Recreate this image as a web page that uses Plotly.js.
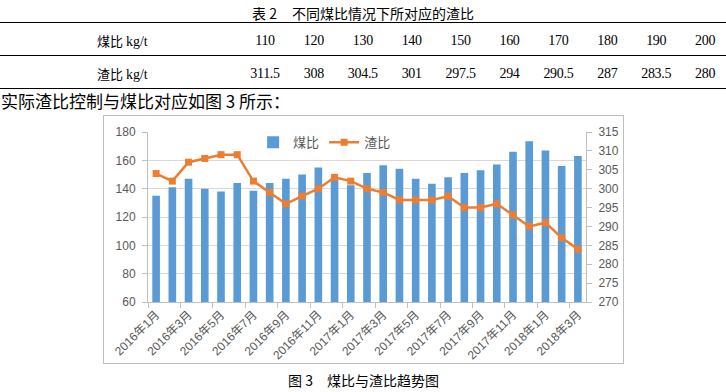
<!DOCTYPE html>
<html>
<head>
<meta charset="utf-8">
<script src="https://cdn.plot.ly/plotly-3.0.1.min.js"></script>
<style>
  html, body { margin: 0; padding: 0; background: #fff; }
  body { width: 726px; height: 392px; position: relative; overflow: hidden; font-family: "Noto Sans CJK SC", sans-serif; color: #000; }
  .abs { position: absolute; white-space: nowrap; }
  .rule { position: absolute; left: 0; width: 726px; height: 1.6px; background: #000; }
  .hei { font-family: "Noto Sans CJK SC", sans-serif; }
  .serif { font-family: "Liberation Serif", "Times New Roman", serif; }
  .cell { position: absolute; transform: translate(-50%, -50%); font-family: "Liberation Serif", serif; font-size: 14px; letter-spacing: -0.3px; }
  #frame { position: absolute; left: 103px; top: 115px; width: 519px; height: 247px; border: 1px solid #bfbfbf; }
  #chart { width: 519px; height: 247px; }
</style>
</head>
<body>
<div class="abs hei" style="left:252px; top:3px; font-size:14px; line-height:20px;">表 2</div>
<div class="abs hei" style="left:292px; top:3px; font-size:14px; line-height:20px;">不同煤比情况下所对应的渣比</div>
<div class="rule" style="top:21.5px;"></div>
<div class="rule" style="top:54.5px;"></div>
<div class="rule" style="top:87.5px;"></div>
<div class="abs" style="left:97px; top:31px; font-size:13px; line-height:20px;"><span class="hei">煤比</span> <span class="serif" style="font-size:14px;">kg/t</span></div>
<div class="abs" style="left:97px; top:64px; font-size:13px; line-height:20px;"><span class="hei">渣比</span> <span class="serif" style="font-size:14px;">kg/t</span></div>
<div id="table"></div>
<div class="abs hei" style="left:1px; top:89px; font-size:17px; line-height:24px;">实际渣比控制与煤比对应如图 3 所示：</div>
<div id="frame"><div id="chart"></div></div>
<div class="abs hei" style="left:288px; top:370px; font-size:14px; line-height:20px;">图 3</div>
<div class="abs hei" style="left:327px; top:370px; font-size:14px; line-height:20px;">煤比与渣比趋势图</div>
<script>
// ---- Table 2 data ----
const tableCoalRatio = [110, 120, 130, 140, 150, 160, 170, 180, 190, 200];
const tableSlagRatio = ["311.5", "308", "304.5", "301", "297.5", "294", "290.5", "287", "283.5", "280"];

// ---- Figure 3 data ----
const months = [
  "2016年1月", "2016年2月", "2016年3月", "2016年4月", "2016年5月", "2016年6月",
  "2016年7月", "2016年8月", "2016年9月", "2016年10月", "2016年11月", "2016年12月",
  "2017年1月", "2017年2月", "2017年3月", "2017年4月", "2017年5月", "2017年6月",
  "2017年7月", "2017年8月", "2017年9月", "2017年10月", "2017年11月", "2017年12月",
  "2018年1月", "2018年2月", "2018年3月"
];
const coalRatio = [135, 141, 147, 140, 138, 144, 138.5, 144, 147, 150, 155, 147,
                   142.5, 151, 156.5, 154, 147, 143.5, 148, 151, 153, 157, 166, 173.5,
                   167, 156, 163];
const slagRatio = [304, 302, 307, 308, 309, 309, 302, 299, 296, 298, 300, 303,
                   302, 300, 299, 297, 297, 297, 298, 295, 295, 296, 293, 290,
                   291, 287, 284];
const coalName = "煤比";
const slagName = "渣比";

// build table cells
const tbl = document.getElementById("table");
tableCoalRatio.forEach((v, i) => {
  const cx = 265 + 48.9 * i;
  const a = document.createElement("div");
  a.className = "cell"; a.style.left = cx + "px"; a.style.top = "41px"; a.textContent = String(v);
  tbl.appendChild(a);
  const b = document.createElement("div");
  b.className = "cell"; b.style.left = cx + "px"; b.style.top = "74px"; b.textContent = tableSlagRatio[i];
  tbl.appendChild(b);
});

const tickFont = { family: "Liberation Sans, Noto Sans CJK SC, sans-serif", size: 12, color: "#595959" };

const traces = [
  {
    type: "bar", x: months, y: coalRatio, name: coalName,
    marker: { color: "#5B9BD5" }, yaxis: "y"
  },
  {
    type: "scatter", mode: "lines+markers", x: months, y: slagRatio, name: slagName,
    line: { color: "#ED7D31", width: 2.5 },
    marker: { color: "#ED7D31", symbol: "square", size: 7 },
    yaxis: "y2"
  }
];

const layout = {
  width: 519, height: 247,
  margin: { l: 44, r: 37, t: 11, b: 61 },
  paper_bgcolor: "#fff", plot_bgcolor: "#fff",
  bargap: 0.53,
  showlegend: true,
  legend: {
    orientation: "h", x: 0.24, y: 0.94, xanchor: "left", yanchor: "middle",
    font: { family: "Noto Sans CJK SC, sans-serif", size: 13, color: "#595959" },
    bgcolor: "rgba(0,0,0,0)"
  },
  xaxis: {
    type: "category",
    tickmode: "linear", tick0: 0, dtick: 2,
    tickson: "boundaries",
    ticks: "outside", ticklen: 5, tickcolor: "#bfbfbf",
    tickangle: -45,
    tickfont: tickFont,
    showline: true, linecolor: "#bfbfbf", linewidth: 1,
    showgrid: false, zeroline: false,
    range: [-0.5, months.length - 0.5]
  },
  yaxis: {
    range: [60, 180], dtick: 20, tick0: 60,
    showgrid: true, gridcolor: "#d9d9d9", gridwidth: 1,
    showline: true, linecolor: "#bfbfbf",
    ticks: "outside", ticklen: 5, tickcolor: "#bfbfbf",
    tickfont: tickFont, zeroline: false, ticklabelstandoff: 4
  },
  yaxis2: {
    overlaying: "y", side: "right",
    range: [270, 315], dtick: 5, tick0: 270,
    showgrid: false,
    showline: true, linecolor: "#bfbfbf",
    ticks: "outside", ticklen: 5, tickcolor: "#bfbfbf",
    tickfont: tickFont, zeroline: false, ticklabelstandoff: 4
  }
};

Plotly.newPlot("chart", traces, layout, { displayModeBar: false, staticPlot: true });
</script>
</body>
</html>
